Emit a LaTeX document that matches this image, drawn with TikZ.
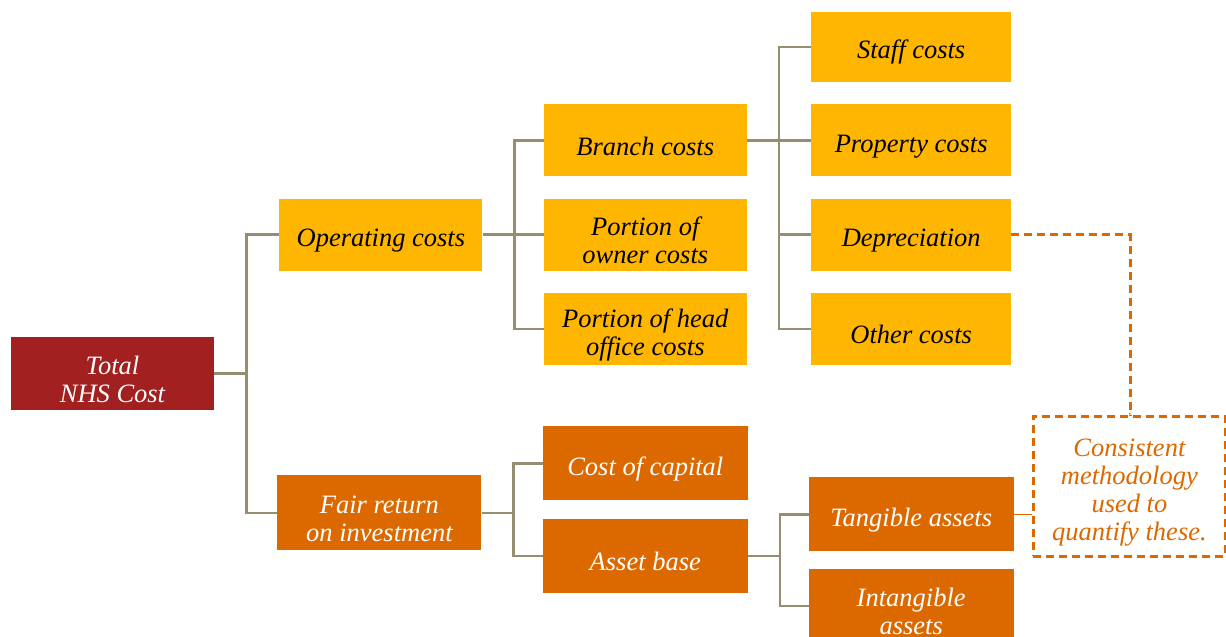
\documentclass[tikz,border=0pt]{standalone}
\usepackage{fontspec}
\setmainfont{Liberation Serif}
\usetikzlibrary{positioning}

\definecolor{costyellow}{HTML}{FFB600}
\definecolor{costorange}{HTML}{DC6900}
\definecolor{costred}{HTML}{A32020}
\definecolor{linkgrey}{HTML}{968E70}

\begin{document}
\begin{tikzpicture}[x=1pt, y=1pt,
	every node/.style={font=\fontsize{26.5}{28}\selectfont\itshape, align=flush center},
	box/.style={rectangle, inner sep=0pt, text width=190pt, execute at begin node={\rule{0pt}{30pt}}},
	opbox/.style={box, fill=costyellow, text=black, minimum width=203pt, minimum height=72pt},
	finbox/.style={box, fill=costorange, text=white, minimum width=205pt, minimum height=74pt},
	rootbox/.style={box, fill=costred, text=white, minimum width=203pt, minimum height=73pt},
	notebox/.style={box, draw=costorange, text=costorange, line width=3pt, dash pattern=on 8pt off 5pt, minimum width=192pt, minimum height=140pt},
	link/.style={draw=linkgrey, line width=2.6pt},
	hint/.style={draw=costorange, line width=3pt, dash pattern=on 8pt off 5pt}
	]

\useasboundingbox (0,0) rectangle (1226,-637);
\clip (0,0) rectangle (1226,-637);

\node[rootbox] (total) at (112.5,-373.5) {Total\\NHS Cost};
\node[opbox, above right=66pt and 65pt of total] (operating) {Operating costs};
\node[finbox, minimum width=204pt, minimum height=75pt, below right=65pt and 63pt of total] (fair) {Fair return\\on investment};

\node[opbox, above right=22pt and 61pt of operating] (branch) {Branch costs};
\node[opbox, right=61pt of operating] (owner) {Portion of\\owner costs};
\node[opbox, below right=22pt and 61pt of operating] (head) {Portion of head\\office costs};

\node[opbox, minimum width=200pt, right=64pt of branch] (property) {Property costs};
\node[opbox, minimum width=200pt, minimum height=70pt, above=22pt of property] (staff) {Staff costs};
\node[opbox, minimum width=200pt, right=64pt of owner] (deprec) {Depreciation};
\node[opbox, minimum width=200pt, right=64pt of head] (other) {Other costs};

\node[finbox, below=61pt of head] (capital) {Cost of capital};
\node[finbox, below=18pt of capital] (asset) {Asset base};
\node[finbox, below=112pt of other] (tangible) {Tangible assets};
\node[finbox, below=17pt of tangible] (intangible) {Intangible\\assets};

\node[notebox, right=18pt of tangible, yshift=28pt] (note) {Consistent\\methodology\\used to\\quantify these.};

% tree connectors
\foreach \kid in {operating, fair}
	\draw[link] (total.east) -- ++(32,0) |- (\kid.west);
\foreach \kid in {branch, owner, head}
	\draw[link] (operating.east) -- ++(32,0) |- (\kid.west);
\foreach \kid in {capital, asset}
	\draw[link] (fair.east) -- ++(32,0) |- (\kid.west);
\foreach \kid in {staff, property, deprec, other}
	\draw[link] (branch.east) -- ++(32,0) |- (\kid.west);
\foreach \kid in {tangible, intangible}
	\draw[link] (asset.east) -- ++(32,0) |- (\kid.west);

% note links
\draw[hint] (deprec.east) -- ++(119,0) |- (note.north);
\draw[costorange, line width=1pt] (tangible.east) -- (tangible.east -| note.west);

\end{tikzpicture}
\end{document}
